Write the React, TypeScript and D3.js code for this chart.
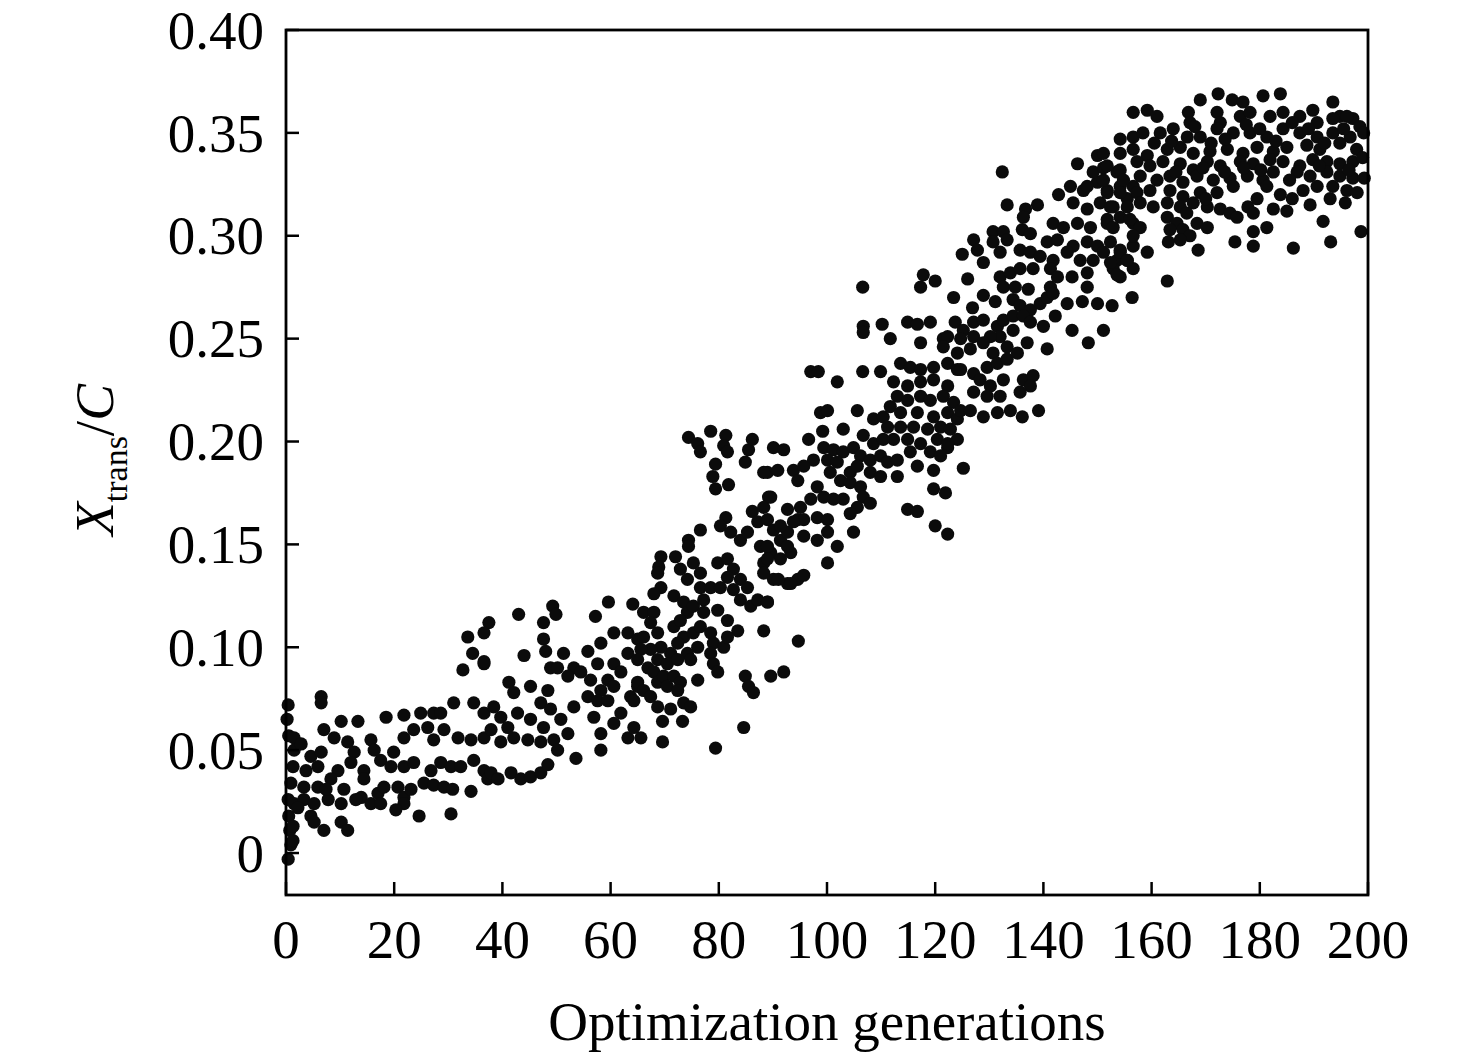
import React from "react";
import * as d3 from "d3";

// [generation, Xtrans/C], split by generation band
const band0to40: [number, number][] = [
    [0.4, 0.072], [0.2, 0.065], [0.5, 0.057], [0.4, 0.026], [0.5, 0.018], [0.7, 0.011], [0.9, 0.004], [0.4, -0.003],
    [6.5, 0.076], [6.5, 0.073], [32.7, 0.089], [36.6, 0.092], [1.5, 0.056], [1.5, 0.050], [1.3, 0.042], [0.9, 0.034],
    [1.5, 0.024], [1.3, 0.013], [1.3, 0.006], [7.0, 0.060], [10.2, 0.064], [13.3, 0.064], [18.5, 0.066], [21.8, 0.067],
    [24.9, 0.068], [27.3, 0.068], [31.0, 0.073], [34.7, 0.073], [36.6, 0.068], [4.6, 0.047], [6.5, 0.049], [5.9, 0.042],
    [8.9, 0.056], [11.4, 0.054], [12.6, 0.049], [15.7, 0.055], [16.3, 0.050], [9.6, 0.040], [12.0, 0.044], [14.4, 0.040],
    [17.5, 0.045], [19.9, 0.049], [21.8, 0.056], [23.6, 0.060], [26.2, 0.061], [27.3, 0.055], [29.2, 0.060], [31.8, 0.056],
    [34.2, 0.055], [36.6, 0.056], [3.3, 0.032], [5.9, 0.032], [8.3, 0.036], [10.7, 0.031], [3.3, 0.026], [2.2, 0.022],
    [5.2, 0.024], [7.8, 0.026], [10.2, 0.024], [4.6, 0.018], [5.2, 0.015], [7.0, 0.011], [10.2, 0.015], [11.4, 0.011],
    [14.4, 0.036], [13.9, 0.027], [15.7, 0.024], [17.0, 0.029], [18.1, 0.032], [20.7, 0.032], [21.8, 0.027], [21.8, 0.024],
    [17.5, 0.024], [19.4, 0.042], [21.8, 0.042], [23.6, 0.044], [26.8, 0.040], [28.6, 0.044], [30.5, 0.042], [32.3, 0.042],
    [34.7, 0.045], [36.6, 0.040], [37.3, 0.036], [25.5, 0.034], [27.3, 0.033], [29.2, 0.032], [30.8, 0.031], [34.2, 0.030],
    [24.6, 0.018], [30.5, 0.019], [2.8, 0.053], [3.7, 0.040], [7.4, 0.031], [12.9, 0.026], [20.3, 0.021], [23.1, 0.031],
    [37.5, 0.112], [36.6, 0.107], [33.6, 0.105], [34.5, 0.097], [36.6, 0.093], [28.6, 0.068], [38.4, 0.071], [39.7, 0.066],
    [37.9, 0.060], [39.7, 0.054], [37.9, 0.039], [39.2, 0.036],
];

const band40to80: [number, number][] = [
    [59.6, 0.122], [64.1, 0.121], [57.2, 0.115], [43.0, 0.116], [49.3, 0.120], [49.9, 0.116], [47.6, 0.112], [44.0, 0.096],
    [47.6, 0.104], [48.0, 0.098], [48.9, 0.090], [51.3, 0.097], [50.2, 0.090], [55.8, 0.098], [58.2, 0.102], [60.6, 0.107],
    [63.2, 0.107], [65.0, 0.104], [57.6, 0.092], [60.6, 0.092], [63.2, 0.097], [53.2, 0.090], [52.1, 0.086], [54.5, 0.088],
    [56.3, 0.084], [58.2, 0.079], [59.5, 0.084], [60.6, 0.081], [55.8, 0.076], [57.6, 0.074], [59.5, 0.074], [61.9, 0.088],
    [63.7, 0.076], [65.0, 0.081], [56.9, 0.066], [58.2, 0.058], [58.2, 0.050], [61.9, 0.068], [60.6, 0.063], [63.2, 0.056],
    [64.3, 0.061], [53.6, 0.046], [41.2, 0.083], [42.1, 0.078], [45.2, 0.081], [48.4, 0.079], [47.1, 0.073], [48.9, 0.070],
    [42.8, 0.068], [45.2, 0.065], [47.6, 0.061], [50.8, 0.065], [52.1, 0.058], [53.2, 0.071], [41.0, 0.061], [42.1, 0.056],
    [44.7, 0.055], [47.1, 0.054], [49.5, 0.055], [50.2, 0.050], [41.6, 0.039], [43.4, 0.036], [45.2, 0.037], [47.1, 0.039],
    [48.4, 0.043], [74.4, 0.202], [76.1, 0.199], [76.6, 0.195], [78.5, 0.205], [79.4, 0.189], [78.9, 0.183], [79.4, 0.177],
    [76.6, 0.157], [74.4, 0.152], [74.4, 0.149], [69.3, 0.144], [68.9, 0.139], [72.0, 0.144], [68.7, 0.136], [72.9, 0.138],
    [75.3, 0.141], [76.6, 0.136], [74.2, 0.133], [76.6, 0.129], [79.8, 0.141], [78.5, 0.129], [69.3, 0.129], [68.0, 0.126],
    [71.7, 0.125], [73.5, 0.122], [74.2, 0.117], [75.3, 0.120], [77.2, 0.123], [77.2, 0.117], [79.8, 0.118], [66.1, 0.117],
    [68.0, 0.117], [67.4, 0.112], [68.7, 0.107], [66.1, 0.105], [71.7, 0.110], [72.9, 0.113], [73.5, 0.105], [75.3, 0.107],
    [76.6, 0.110], [78.5, 0.107], [79.0, 0.102], [76.1, 0.100], [74.2, 0.097], [72.4, 0.102], [71.1, 0.097], [69.3, 0.100],
    [67.4, 0.099], [65.6, 0.099], [65.0, 0.094], [66.9, 0.090], [68.7, 0.094], [70.5, 0.092], [72.4, 0.094], [74.8, 0.094],
    [78.5, 0.097], [79.0, 0.092], [79.8, 0.088], [65.0, 0.083], [66.1, 0.079], [68.0, 0.088], [68.7, 0.083], [69.8, 0.086],
    [71.7, 0.086], [72.9, 0.083], [70.5, 0.081], [72.4, 0.079], [76.1, 0.084], [64.3, 0.074], [67.4, 0.076], [68.7, 0.071],
    [71.1, 0.070], [73.5, 0.073], [74.8, 0.071], [69.6, 0.064], [73.3, 0.064], [65.6, 0.056], [69.6, 0.054], [79.4, 0.051],
];

const band80to120: [number, number][] = [
    [81.3, 0.203], [80.9, 0.198], [81.6, 0.195], [81.8, 0.179], [84.9, 0.190], [85.5, 0.196], [86.2, 0.201], [90.1, 0.197],
    [92.0, 0.196], [89.0, 0.185], [90.9, 0.186], [93.8, 0.186], [94.6, 0.181], [89.2, 0.173], [86.2, 0.166], [88.3, 0.168],
    [92.7, 0.167], [94.6, 0.162], [81.3, 0.163], [80.3, 0.159], [82.2, 0.156], [84.0, 0.152], [85.3, 0.156], [87.2, 0.161],
    [89.0, 0.162], [90.1, 0.157], [91.4, 0.152], [92.7, 0.156], [87.7, 0.149], [89.6, 0.146], [91.4, 0.143], [93.3, 0.146],
    [88.3, 0.141], [90.1, 0.133], [92.7, 0.131], [94.6, 0.133], [81.6, 0.143], [82.7, 0.138], [84.0, 0.133], [85.3, 0.129],
    [81.6, 0.134], [80.3, 0.129], [82.7, 0.128], [84.0, 0.123], [85.9, 0.120], [87.2, 0.123], [89.0, 0.122], [81.6, 0.113],
    [83.5, 0.108], [88.3, 0.108], [80.9, 0.100], [81.6, 0.105], [84.6, 0.061], [84.9, 0.086], [85.5, 0.081], [86.4, 0.078],
    [89.6, 0.086], [92.0, 0.088], [94.7, 0.103], [97.0, 0.234], [98.4, 0.234], [106.6, 0.234], [109.9, 0.234], [101.9, 0.229],
    [113.6, 0.238], [115.4, 0.236], [117.3, 0.235], [119.7, 0.236], [112.3, 0.229], [114.9, 0.227], [117.3, 0.229], [119.7, 0.230],
    [113.0, 0.222], [114.9, 0.220], [117.3, 0.222], [119.1, 0.220], [111.7, 0.217], [113.6, 0.214], [116.7, 0.214], [119.7, 0.212],
    [111.2, 0.207], [113.6, 0.207], [116.0, 0.207], [118.6, 0.206], [112.3, 0.201], [114.9, 0.201], [117.3, 0.199], [115.4, 0.195],
    [119.1, 0.195], [98.8, 0.214], [100.1, 0.215], [105.6, 0.215], [108.6, 0.211], [110.4, 0.212], [99.2, 0.205], [103.0, 0.206],
    [96.6, 0.201], [106.7, 0.203], [108.6, 0.199], [110.4, 0.201], [99.4, 0.197], [101.2, 0.196], [103.0, 0.195], [104.9, 0.197],
    [106.2, 0.193], [108.0, 0.191], [109.9, 0.193], [111.2, 0.190], [113.0, 0.191], [100.1, 0.191], [101.9, 0.190], [97.5, 0.191],
    [95.7, 0.188], [88.3, 0.185], [100.6, 0.185], [102.5, 0.181], [104.3, 0.185], [105.6, 0.188], [108.0, 0.185], [109.9, 0.183],
    [113.0, 0.183], [104.3, 0.180], [106.2, 0.178], [106.7, 0.173], [108.0, 0.170], [105.6, 0.168], [104.3, 0.165], [103.0, 0.172],
    [101.2, 0.172], [99.4, 0.173], [98.2, 0.178], [97.0, 0.172], [95.1, 0.168], [89.6, 0.173], [116.7, 0.188], [119.7, 0.186],
    [119.7, 0.177], [114.9, 0.167], [116.7, 0.166], [98.2, 0.163], [100.1, 0.162], [95.7, 0.162], [93.8, 0.161], [95.7, 0.154],
    [98.2, 0.152], [100.1, 0.156], [101.9, 0.149], [104.9, 0.156], [91.4, 0.159], [89.0, 0.149], [92.7, 0.149], [89.0, 0.143],
    [100.1, 0.141], [88.3, 0.136], [91.0, 0.133], [93.3, 0.131], [95.7, 0.135], [89.0, 0.122], [117.8, 0.281], [117.3, 0.275],
    [106.6, 0.275], [106.7, 0.256], [106.7, 0.253], [110.2, 0.257], [111.7, 0.250], [114.9, 0.258], [116.7, 0.257], [119.1, 0.258],
    [117.3, 0.248],
];

const band120to160: [number, number][] = [
    [122.3, 0.238], [124.1, 0.235], [122.3, 0.227], [121.5, 0.222], [123.4, 0.219], [122.3, 0.214], [124.1, 0.211], [121.0, 0.207],
    [122.8, 0.206], [120.4, 0.201], [122.3, 0.197], [124.1, 0.201], [121.0, 0.193], [121.9, 0.175], [120.0, 0.159], [122.3, 0.155],
    [120.0, 0.278], [123.4, 0.270], [126.0, 0.279], [123.7, 0.258], [121.5, 0.250], [142.8, 0.320], [145.0, 0.324], [147.4, 0.322],
    [150.0, 0.326], [151.8, 0.322], [154.2, 0.324], [156.6, 0.324], [133.3, 0.315], [136.7, 0.313], [138.9, 0.315], [136.3, 0.309],
    [145.5, 0.316], [148.1, 0.313], [150.5, 0.316], [152.9, 0.314], [155.5, 0.318], [130.7, 0.302], [132.6, 0.302], [136.1, 0.303],
    [137.6, 0.301], [141.8, 0.306], [143.7, 0.304], [146.3, 0.306], [148.7, 0.304], [151.8, 0.306], [154.2, 0.309], [156.6, 0.306],
    [127.1, 0.298], [127.8, 0.293], [130.7, 0.297], [133.3, 0.298], [132.0, 0.292], [135.7, 0.293], [137.6, 0.292], [125.0, 0.291],
    [128.9, 0.287], [140.7, 0.297], [142.6, 0.298], [145.5, 0.295], [148.1, 0.297], [150.0, 0.295], [152.4, 0.297], [154.2, 0.293],
    [156.6, 0.295], [139.4, 0.290], [141.8, 0.288], [144.4, 0.292], [146.8, 0.288], [149.2, 0.288], [153.6, 0.288], [155.5, 0.288],
    [152.9, 0.284], [154.2, 0.280], [156.6, 0.284], [132.0, 0.280], [133.9, 0.282], [135.7, 0.284], [138.1, 0.284], [141.3, 0.284],
    [142.6, 0.280], [132.6, 0.275], [134.8, 0.275], [137.2, 0.274], [141.3, 0.275], [145.3, 0.280], [148.1, 0.282], [148.1, 0.275],
    [128.9, 0.271], [131.1, 0.268], [126.9, 0.265], [134.4, 0.269], [135.7, 0.266], [137.6, 0.264], [139.4, 0.267], [140.7, 0.270],
    [141.8, 0.272], [144.4, 0.267], [147.2, 0.268], [150.0, 0.267], [152.7, 0.266], [156.4, 0.270], [142.2, 0.261], [140.0, 0.256],
    [145.3, 0.254], [148.3, 0.248], [151.1, 0.254], [125.2, 0.254], [127.1, 0.258], [128.9, 0.259], [131.5, 0.256], [132.6, 0.259],
    [134.4, 0.261], [136.3, 0.261], [137.6, 0.258], [134.4, 0.254], [132.0, 0.251], [130.2, 0.251], [127.1, 0.251], [124.7, 0.250],
    [122.3, 0.251], [121.5, 0.246], [124.1, 0.243], [126.5, 0.245], [128.9, 0.248], [130.7, 0.243], [133.3, 0.246], [135.2, 0.243],
    [137.0, 0.248], [140.7, 0.245], [124.7, 0.235], [127.1, 0.233], [129.6, 0.236], [131.5, 0.238], [133.3, 0.240], [128.3, 0.230],
    [130.2, 0.227], [132.6, 0.230], [136.3, 0.230], [138.1, 0.232], [137.6, 0.227], [135.7, 0.224], [132.0, 0.222], [129.6, 0.222],
    [127.1, 0.224], [124.7, 0.215], [126.5, 0.215], [128.9, 0.212], [131.5, 0.214], [133.9, 0.215], [136.1, 0.212], [139.1, 0.215],
    [122.3, 0.199], [125.2, 0.187], [132.4, 0.331], [150.0, 0.339], [146.3, 0.335], [149.2, 0.331], [151.1, 0.333], [153.6, 0.331],
    [154.2, 0.347], [156.6, 0.348], [148.1, 0.324], [156.6, 0.360], [159.2, 0.361], [158.4, 0.350], [151.1, 0.340], [154.2, 0.340],
    [156.6, 0.342], [159.2, 0.339], [151.8, 0.334], [154.2, 0.332], [157.3, 0.336], [159.7, 0.334], [151.1, 0.327], [154.8, 0.327],
    [157.9, 0.329], [151.8, 0.321], [154.2, 0.321], [157.3, 0.321], [159.7, 0.322], [152.4, 0.314], [155.5, 0.314], [157.9, 0.316],
    [151.8, 0.308], [152.9, 0.304], [156.0, 0.308], [157.9, 0.304], [156.6, 0.300], [159.2, 0.292], [151.1, 0.292], [154.2, 0.292],
    [152.4, 0.287], [155.5, 0.288], [153.6, 0.281],
];

const band160to200: [number, number][] = [
    [169.0, 0.366], [172.3, 0.369], [174.9, 0.366], [176.9, 0.365], [180.6, 0.368], [183.8, 0.369], [193.5, 0.365], [189.8, 0.361],
    [194.8, 0.358], [197.2, 0.357], [161.0, 0.358], [166.8, 0.360], [167.1, 0.355], [172.1, 0.360], [172.7, 0.355], [176.4, 0.358],
    [178.2, 0.360], [181.9, 0.358], [184.3, 0.360], [187.4, 0.358], [190.6, 0.355], [193.5, 0.357], [196.1, 0.358], [198.5, 0.353],
    [161.6, 0.350], [164.0, 0.352], [166.6, 0.348], [169.0, 0.348], [172.1, 0.352], [175.1, 0.350], [178.2, 0.350], [181.3, 0.348],
    [184.3, 0.352], [187.4, 0.350], [190.6, 0.348], [193.5, 0.350], [196.7, 0.348], [199.2, 0.350], [162.9, 0.342], [165.3, 0.343],
    [167.7, 0.340], [170.8, 0.341], [174.0, 0.342], [176.9, 0.340], [179.5, 0.343], [182.5, 0.341], [185.0, 0.343], [188.7, 0.344],
    [191.1, 0.342], [194.8, 0.345], [197.9, 0.342], [162.1, 0.336], [165.3, 0.335], [167.7, 0.332], [170.3, 0.336], [172.7, 0.334],
    [176.4, 0.336], [178.8, 0.335], [181.9, 0.337], [184.3, 0.336], [187.4, 0.334], [189.8, 0.337], [192.4, 0.336], [194.8, 0.335],
    [197.2, 0.336], [161.0, 0.327], [163.4, 0.329], [165.8, 0.326], [168.4, 0.329], [171.4, 0.327], [174.5, 0.328], [177.7, 0.329],
    [180.6, 0.327], [182.5, 0.331], [186.9, 0.331], [189.3, 0.329], [192.4, 0.331], [194.8, 0.329], [197.2, 0.328], [163.4, 0.322],
    [165.8, 0.319], [169.0, 0.321], [172.1, 0.321], [175.1, 0.324], [181.3, 0.324], [183.8, 0.320], [188.0, 0.322], [190.6, 0.324],
    [193.5, 0.324], [196.1, 0.322], [198.0, 0.321], [189.3, 0.315], [195.8, 0.316], [160.3, 0.314], [162.9, 0.316], [165.3, 0.314],
    [167.7, 0.316], [170.3, 0.314], [172.7, 0.313], [174.5, 0.311], [175.8, 0.309], [177.8, 0.314], [178.8, 0.311], [182.5, 0.313],
    [185.0, 0.312], [191.7, 0.307], [162.9, 0.309], [164.7, 0.306], [163.4, 0.303], [165.8, 0.303], [168.4, 0.306], [170.3, 0.304],
    [167.1, 0.300], [165.3, 0.298], [163.1, 0.297], [168.6, 0.293], [178.8, 0.302], [181.3, 0.304], [175.4, 0.297], [178.8, 0.295],
    [186.2, 0.294], [193.1, 0.297], [198.7, 0.302], [162.9, 0.278], [160.5, 0.345], [163.7, 0.346], [168.0, 0.353], [171.0, 0.345],
    [173.6, 0.347], [177.5, 0.354], [180.0, 0.352], [183.0, 0.346], [186.0, 0.355], [189.0, 0.352], [192.0, 0.345], [195.5, 0.352],
    [164.5, 0.331], [169.5, 0.333], [173.5, 0.331], [177.0, 0.333], [180.2, 0.332], [185.5, 0.327], [191.0, 0.334], [196.5, 0.332],
    [199.0, 0.338], [166.5, 0.311], [170.0, 0.318], [179.5, 0.318], [186.0, 0.318], [193.0, 0.318], [199.3, 0.328],
];

const xTicks = [0, 20, 40, 60, 80, 100, 120, 140, 160, 180, 200];
const yTicks = [0, 0.05, 0.1, 0.15, 0.2, 0.25, 0.3, 0.35, 0.4];
const yTickLabels = ["0", "0.05", "0.10", "0.15", "0.20", "0.25", "0.30", "0.35", "0.40"];

const WIDTH = 1476;
const HEIGHT = 1058;
const FONT = "'Liberation Serif', 'Times New Roman', serif";

export default function App() {
    const margin = { top: 30, right: 108, bottom: 163, left: 286 };

    const x = d3.scaleLinear([0, 200], [margin.left, WIDTH - margin.right]);
    // the frame runs a little below zero
    const y = d3.scaleLinear([-0.0204, 0.4], [HEIGHT - margin.bottom, margin.top]);

    const points = [...band0to40, ...band40to80, ...band80to120, ...band120to160, ...band160to200];
    const tickLen = 13;

    return <svg width={WIDTH} height={HEIGHT}
        style={{ position: "absolute", left: 0, top: 0, background: "#fff" }}
        fontFamily={FONT}>

        <g name="points">
            {points.map((d, i) => (
                <circle key={i} cx={x(d[0])} cy={y(d[1])} r={6.6} fill="#0b0b0b" />
            ))}
        </g>

        <rect x={x(0)} y={y(0.4)} width={x(200) - x(0)} height={y(-0.0204) - y(0.4)}
            fill="none" stroke="#000" strokeWidth={2.8} />

        <g name="yTicks">
            {yTicks.map((t, i) => (
                <g key={t}>
                    <line x1={x(0)} x2={x(0) + tickLen} y1={y(t)} y2={y(t)} stroke="#000" strokeWidth={2.5} />
                    <text x={x(0) - 22} y={y(t)} dy="0.34em" textAnchor="end" fontSize={55}>{yTickLabels[i]}</text>
                </g>
            ))}
        </g>

        <g name="xTicks">
            {xTicks.map((t) => (
                <g key={t}>
                    <line x1={x(t)} x2={x(t)} y1={y(-0.0204)} y2={y(-0.0204) - tickLen} stroke="#000" strokeWidth={2.5} />
                    <text x={x(t)} y={y(-0.0204) + 63} textAnchor="middle" fontSize={55}>{t}</text>
                </g>
            ))}
        </g>

        <text x={(x(0) + x(200)) / 2} y={1040} textAnchor="middle" fontSize={55}>Optimization generations</text>

        <text transform="rotate(-90)" x={-460} y={113} textAnchor="middle" fontSize={55}>
            <tspan fontStyle="italic">X</tspan>
            <tspan fontSize={34} dy={14}>trans</tspan>
            <tspan dy={-14}>/</tspan>
            <tspan fontStyle="italic">C</tspan>
        </text>
    </svg>;
}
